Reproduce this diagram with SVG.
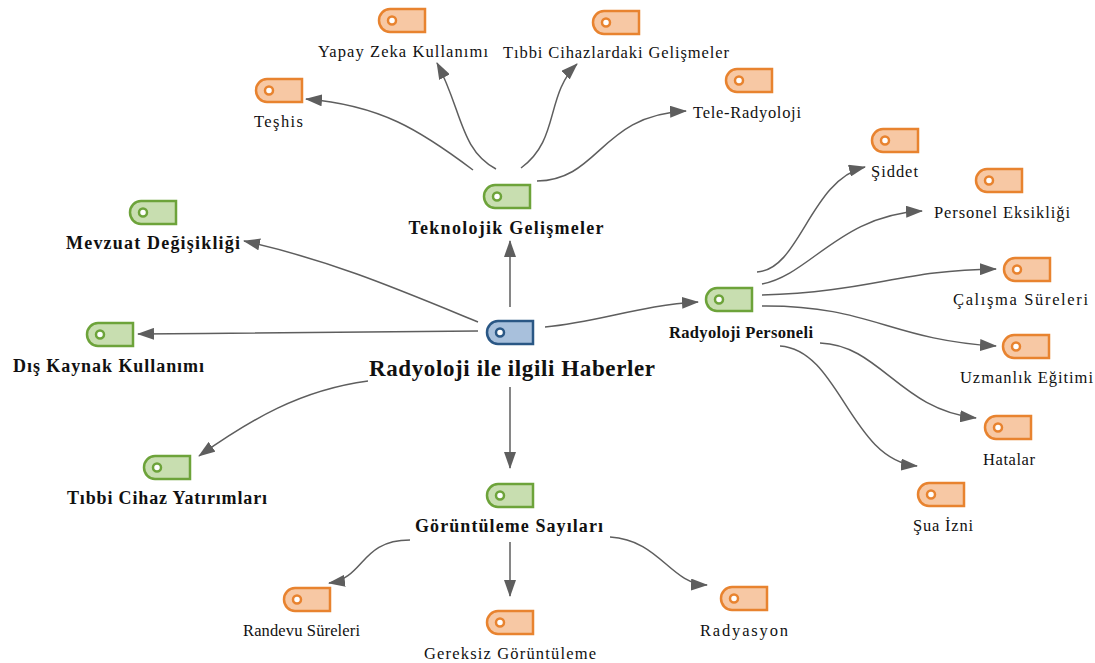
<svg xmlns="http://www.w3.org/2000/svg" xmlns:xlink="http://www.w3.org/1999/xlink" width="1095" height="663" viewBox="0 0 1095 663">
<style>
text{font-family:"Liberation Serif","Times New Roman",serif;fill:#111;text-anchor:middle}
.lo{font-size:16.5px}
.lg{font-size:18px;font-weight:bold}
.lc{font-size:23px;font-weight:bold}
.o{fill:#f7c8a4;stroke:#e8832f;stroke-width:2.5}
.g{fill:#c8deb0;stroke:#6da33a;stroke-width:2.5}
.b{fill:#a8c0dc;stroke:#2a5785;stroke-width:2.5}
.ho{fill:#fff;stroke:#e8832f;stroke-width:2.5}
.hg{fill:#fff;stroke:#6da33a;stroke-width:2.5}
.hb{fill:#fff;stroke:#2a5785;stroke-width:2.5}
.c{fill:none;stroke:#5e5e5e;stroke-width:1.5;marker-end:url(#arr)}
</style>
<defs>
<path id="tag" d="M11 0H46V23H11A11 11.5 0 0 1 0 11.5A11 11.5 0 0 1 11 0Z"/>
<marker id="arr" markerWidth="18" markerHeight="12" refX="16" refY="6" orient="auto" markerUnits="userSpaceOnUse">
<path d="M0 0L17 6L0 12Z" fill="#5e5e5e"/>
</marker>
</defs>
<g id="connectors">
<path class="c" d="M510 307V241"/>
<path class="c" d="M478 322C400 290 330 260 244 241"/>
<path class="c" d="M478 331C360 332 250 333 138 334"/>
<path class="c" d="M368 381C300 390 250 420 199 456"/>
<path class="c" d="M510 387V468"/>
<path class="c" d="M545 327C600 322 640 305 698 302"/>
<path class="c" d="M473 170C420 130 380 105 306 99"/>
<path class="c" d="M496 169C460 150 462 110 437 63"/>
<path class="c" d="M521 168C560 140 545 95 577 64"/>
<path class="c" d="M537 181C600 180 600 115 686 111"/>
<path class="c" d="M757 272C800 270 810 180 865 167"/>
<path class="c" d="M762 284C810 275 840 215 922 211"/>
<path class="c" d="M762 295C870 292 900 270 996 269"/>
<path class="c" d="M762 306C870 305 890 340 996 346"/>
<path class="c" d="M820 343C880 345 900 410 976 418"/>
<path class="c" d="M780 346C840 350 850 460 917 466"/>
<path class="c" d="M410 540C360 540 365 578 329 583"/>
<path class="c" d="M510 542V596"/>
<path class="c" d="M610 537C660 540 670 584 707 585"/>
</g>
<g id="n-center"><use xlink:href="#tag" class="b" x="487" y="321"/><circle class="hb" cx="500" cy="332.5" r="4"/><text class="lc" x="512" y="376" textLength="286" lengthAdjust="spacing">Radyoloji ile ilgili Haberler</text></g>
<g id="n-teknolojik"><use xlink:href="#tag" class="g" x="484" y="185"/><circle class="hg" cx="497" cy="196.5" r="4"/><text class="lg" x="506" y="234" textLength="195" lengthAdjust="spacing">Teknolojik Gelişmeler</text></g>
<g id="n-mevzuat"><use xlink:href="#tag" class="g" x="130" y="201"/><circle class="hg" cx="143" cy="212.5" r="4"/><text class="lg" x="153" y="249" textLength="174" lengthAdjust="spacing">Mevzuat Değişikliği</text></g>
<g id="n-diskaynak"><use xlink:href="#tag" class="g" x="87" y="323"/><circle class="hg" cx="100" cy="334.5" r="4"/><text class="lg" x="108.5" y="372" textLength="191" lengthAdjust="spacing">Dış Kaynak Kullanımı</text></g>
<g id="n-tibbicihaz"><use xlink:href="#tag" class="g" x="144" y="456"/><circle class="hg" cx="157" cy="467.5" r="4"/><text class="lg" x="167" y="504" textLength="200" lengthAdjust="spacing">Tıbbi Cihaz Yatırımları</text></g>
<g id="n-goruntuleme"><use xlink:href="#tag" class="g" x="487" y="484"/><circle class="hg" cx="500" cy="495.5" r="4"/><text class="lg" x="509" y="532" textLength="188" lengthAdjust="spacing">Görüntüleme Sayıları</text></g>
<g id="n-personel"><use xlink:href="#tag" class="g" x="706" y="288"/><circle class="hg" cx="719" cy="299.5" r="4"/><text class="lg" x="741" y="338" style="font-size:16.5px" textLength="144" lengthAdjust="spacing">Radyoloji Personeli</text></g>
<g id="n-teshis"><use xlink:href="#tag" class="o" x="256" y="79"/><circle class="ho" cx="269" cy="90.5" r="4"/><text class="lo" x="278.5" y="127" textLength="49" lengthAdjust="spacing">Teşhis</text></g>
<g id="n-yapay"><use xlink:href="#tag" class="o" x="379" y="9"/><circle class="ho" cx="392" cy="20.5" r="4"/><text class="lo" x="403" y="57" textLength="170" lengthAdjust="spacing">Yapay  Zeka Kullanımı</text></g>
<g id="n-tibbigelisme"><use xlink:href="#tag" class="o" x="593" y="11"/><circle class="ho" cx="606" cy="22.5" r="4"/><text class="lo" x="616" y="58" textLength="226" lengthAdjust="spacing">Tıbbi Cihazlardaki Gelişmeler</text></g>
<g id="n-tele"><use xlink:href="#tag" class="o" x="726" y="69"/><circle class="ho" cx="739" cy="80.5" r="4"/><text class="lo" x="747" y="118" textLength="108" lengthAdjust="spacing">Tele-Radyoloji</text></g>
<g id="n-siddet"><use xlink:href="#tag" class="o" x="872" y="129"/><circle class="ho" cx="885" cy="140.5" r="4"/><text class="lo" x="894.5" y="177" textLength="47" lengthAdjust="spacing">Şiddet</text></g>
<g id="n-eksiklik"><use xlink:href="#tag" class="o" x="976" y="169"/><circle class="ho" cx="989" cy="180.5" r="4"/><text class="lo" x="1002" y="218" textLength="136" lengthAdjust="spacing">Personel Eksikliği</text></g>
<g id="n-calisma"><use xlink:href="#tag" class="o" x="1004" y="258"/><circle class="ho" cx="1017" cy="269.5" r="4"/><text class="lo" x="1020.5" y="305" textLength="135" lengthAdjust="spacing">Çalışma Süreleri</text></g>
<g id="n-uzmanlik"><use xlink:href="#tag" class="o" x="1003" y="335"/><circle class="ho" cx="1016" cy="346.5" r="4"/><text class="lo" x="1026.5" y="383" textLength="133" lengthAdjust="spacing">Uzmanlık Eğitimi</text></g>
<g id="n-hatalar"><use xlink:href="#tag" class="o" x="985" y="416"/><circle class="ho" cx="998" cy="427.5" r="4"/><text class="lo" x="1009" y="465" textLength="52" lengthAdjust="spacing">Hatalar</text></g>
<g id="n-sua"><use xlink:href="#tag" class="o" x="918" y="483"/><circle class="ho" cx="931" cy="494.5" r="4"/><text class="lo" x="943" y="531" textLength="60" lengthAdjust="spacing">Şua İzni</text></g>
<g id="n-randevu"><use xlink:href="#tag" class="o" x="284" y="588"/><circle class="ho" cx="297" cy="599.5" r="4"/><text class="lo" x="301.5" y="636" textLength="117" lengthAdjust="spacing">Randevu Süreleri</text></g>
<g id="n-gereksiz"><use xlink:href="#tag" class="o" x="487" y="611"/><circle class="ho" cx="500" cy="622.5" r="4"/><text class="lo" x="510" y="659" textLength="172" lengthAdjust="spacing">Gereksiz Görüntüleme</text></g>
<g id="n-radyasyon"><use xlink:href="#tag" class="o" x="721" y="587"/><circle class="ho" cx="734" cy="598.5" r="4"/><text class="lo" x="744" y="636" textLength="88" lengthAdjust="spacing">Radyasyon</text></g>
</svg>
